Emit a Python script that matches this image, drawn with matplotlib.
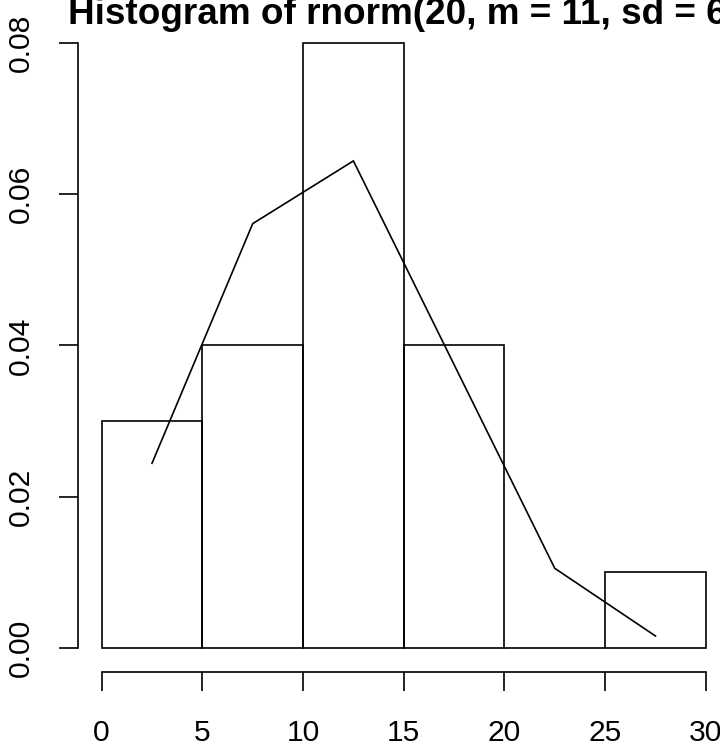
import matplotlib
matplotlib.use("Agg")
import matplotlib.pyplot as plt
import matplotlib.transforms as mtransforms

plt.rcParams["font.family"] = ["Liberation Sans", "DejaVu Sans"]

# histogram data (density scale)
breaks = [0, 5, 10, 15, 20, 25, 30]
density = [0.03, 0.04, 0.08, 0.04, 0.0, 0.01]
# frequency polygon through the bin midpoints
mids = [2.5, 7.5, 12.5, 17.5, 22.5, 27.5]
poly_y = [0.0244, 0.0561, 0.0644, 0.03745, 0.0105, 0.00155]

x_ticks = [0, 5, 10, 15, 20, 25, 30]
y_ticks = [0.00, 0.02, 0.04, 0.06, 0.08]
title = "Histogram of rnorm(20, m = 11, sd = 6)"

W, H = 720, 746
fig = plt.figure(figsize=(W / 100, H / 100), dpi=100)
# plot region in pixels (R style, runs past the right edge of the picture)
left_px, right_px, top_px, bottom_px = 77.5, 730.0, 18.8, 671.9
ax = fig.add_axes([left_px / W, 1 - bottom_px / H,
                   (right_px - left_px) / W, (bottom_px - top_px) / H])

lw = 1.2
widths = [breaks[i + 1] - breaks[i] for i in range(len(density))]
ax.bar(breaks[:-1], density, width=widths, align="edge", fill=False,
       edgecolor="black", linewidth=lw)
ax.plot(mids, poly_y, color="black", linewidth=lw, solid_joinstyle="miter")

ax.set_xlim(-1.2, 31.2)
ax.set_ylim(-0.0032, 0.0832)

for s in ["top", "right"]:
    ax.spines[s].set_visible(False)
ax.spines["left"].set_bounds(0, 0.08)
ax.spines["bottom"].set_bounds(0, 30)
ax.spines["left"].set_linewidth(lw)
ax.spines["bottom"].set_linewidth(lw)

ax.set_xticks(x_ticks)
ax.set_xticklabels([str(v) for v in x_ticks])
ax.set_yticks(y_ticks)
ax.set_yticklabels([f"{v:.2f}" for v in y_ticks], rotation=90, va="center")
ax.tick_params(axis="both", length=14, width=lw, labelsize=21.6)
ax.tick_params(axis="x", pad=20)
ax.tick_params(axis="y", pad=17)

tr = mtransforms.blended_transform_factory(ax.transData, fig.transFigure)
ax.text(15, 1 - 24 / H, title, transform=tr, ha="center", va="baseline",
        fontsize=26.6, fontweight="bold", clip_on=False)

fig.savefig("out.png", dpi=100)
